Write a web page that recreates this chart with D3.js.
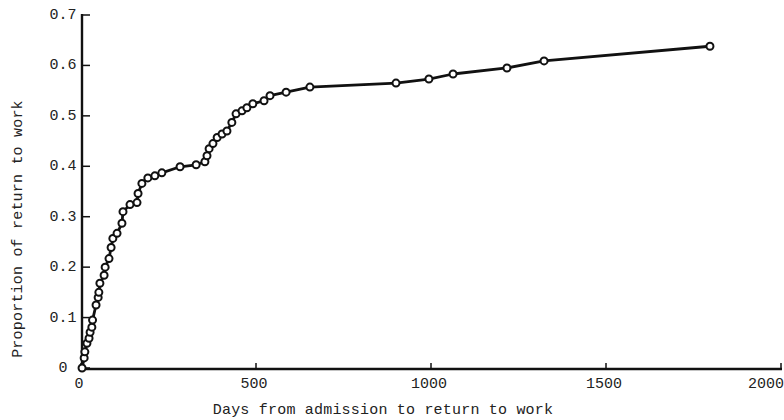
<!DOCTYPE html>
<html><head><meta charset="utf-8">
<script src="https://cdn.jsdelivr.net/npm/d3@7"></script>
<style>
html,body{margin:0;padding:0;background:#fff;}
svg{display:block;}
text{font-family:"Liberation Mono","DejaVu Sans Mono",monospace;fill:#222;}
</style></head>
<body><svg id="chart" width="784" height="420"></svg>
<script>
const days = [3, 9, 11, 17, 23, 26, 31, 33, 43, 49, 51, 54, 66, 69, 80, 86, 91, 103, 117, 120, 140, 160, 163, 174, 191, 211, 231, 283, 329, 354, 360, 366, 377, 389, 403, 417, 431, 443, 460, 474, 491, 523, 540, 586, 654, 900, 994, 1063, 1217, 1323, 1797];
const proportion = [0, 0.020, 0.032, 0.049, 0.059, 0.071, 0.081, 0.095, 0.125, 0.140, 0.150, 0.168, 0.184, 0.200, 0.217, 0.239, 0.257, 0.267, 0.287, 0.310, 0.324, 0.328, 0.346, 0.366, 0.377, 0.381, 0.387, 0.399, 0.403, 0.409, 0.421, 0.435, 0.445, 0.457, 0.464, 0.470, 0.487, 0.504, 0.510, 0.516, 0.524, 0.530, 0.540, 0.547, 0.557, 0.565, 0.573, 0.583, 0.595, 0.609, 0.638];
const xTicks = [0, 500, 1000, 1500, 2000];
const yTicks = [0, 0.1, 0.2, 0.3, 0.4, 0.5, 0.6, 0.7];
const yTickLabels = ["0", "0.1", "0.2", "0.3", "0.4", "0.5", "0.6", "0.7"];
const xTitle = "Days from admission to return to work";
const yTitle = "Proportion of return to work";

const svg = d3.select("#chart");
const x = d3.scaleLinear().domain([0, 2000]).range([81, 781]);
const y = d3.scaleLinear().domain([0, 0.7]).range([368, 15]);

// axes lines
svg.append("line").attr("x1", 80).attr("x2", 782).attr("y1", 369).attr("y2", 369)
  .attr("stroke", "#111").attr("stroke-width", 2.4);
svg.append("line").attr("x1", 82).attr("x2", 82).attr("y1", 14).attr("y2", 369)
  .attr("stroke", "#111").attr("stroke-width", 2.4);

// x ticks
svg.selectAll(".xt").data(xTicks).enter().append("line")
  .attr("x1", d => x(d)).attr("x2", d => x(d)).attr("y1", 369).attr("y2", 363)
  .attr("stroke", "#111").attr("stroke-width", 1.5);
svg.selectAll(".xl").data(xTicks).enter().append("text")
  .attr("x", (d, i) => i === xTicks.length - 1 ? 784 : x(d) - 2)
  .attr("y", 388)
  .attr("text-anchor", (d, i) => i === xTicks.length - 1 ? "end" : "middle")
  .attr("font-size", 15).text(d => d);

// y ticks
svg.selectAll(".yt").data(yTicks).enter().append("line")
  .attr("x1", 82).attr("x2", 90).attr("y1", d => y(d)).attr("y2", d => y(d))
  .attr("stroke", "#111").attr("stroke-width", 1.5);
svg.selectAll(".yl").data(yTicks).enter().append("text")
  .attr("x", 63).attr("y", d => y(d) + 4).attr("text-anchor", "middle")
  .attr("font-size", 15).text((d, i) => yTickLabels[i]);

// titles
svg.append("text").attr("x", 383).attr("y", 414).attr("text-anchor", "middle")
  .attr("font-size", 15).attr("letter-spacing", 0.2).text(xTitle);
svg.append("text").attr("transform", "translate(22,229) rotate(-90)")
  .attr("text-anchor", "middle").attr("font-size", 15).attr("letter-spacing", 0.2).text(yTitle);

// line
const pts = days.map((d, i) => [d, proportion[i]]);
svg.append("path").datum(pts)
  .attr("d", d3.line().x(d => x(d[0])).y(d => y(d[1])))
  .attr("fill", "none").attr("stroke", "#111").attr("stroke-width", 2.8)
  .attr("stroke-linejoin", "round");
svg.selectAll(".pt").data(pts).enter().append("circle")
  .attr("cx", d => x(d[0])).attr("cy", d => y(d[1])).attr("r", 3.5)
  .attr("fill", "#fff").attr("stroke", "#111").attr("stroke-width", 2);
</script></body></html>
